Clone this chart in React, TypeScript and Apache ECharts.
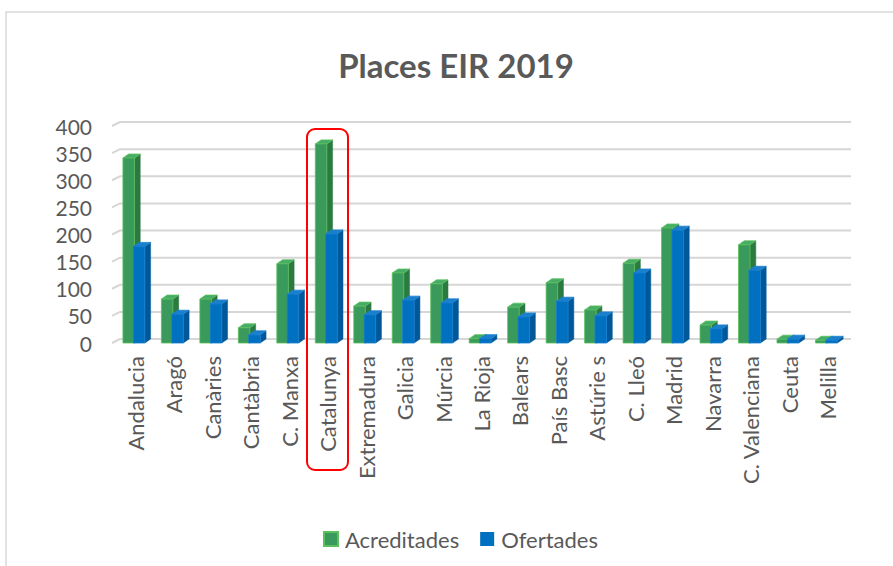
import React, { useEffect, useRef } from "react";
import * as echarts from "echarts";

const categories = [
  "Andalucia", "Aragó", "Canàries", "Cantàbria", "C. Manxa", "Catalunya",
  "Extremadura", "Galicia", "Múrcia", "La Rioja", "Balears", "País Basc",
  "Astúrie s", "C. Lleó", "Madrid", "Navarra", "C. Valenciana", "Ceuta", "Melilla",
];
const acreditades = [341, 81, 81, 28, 146, 367, 68, 129, 109, 8, 66, 111, 61, 147, 212, 33, 181, 7, 5];
const ofertades = [178, 53, 72, 15, 90, 201, 52, 79, 74, 8, 48, 77, 50, 129, 208, 26, 134, 7, 5];
const yTicks = [0, 50, 100, 150, 200, 250, 300, 350, 400];

const FONT = "Lato, 'Open Sans', sans-serif";
const TEXT = "#595959";

const GREEN = { front: "#3a9a5b", side: "#2a7a42", top: "#45ad66", edge: "#5cc05c" };
const BLUE = { front: "#0070c0", side: "#00589a", top: "#1a80cc", edge: "#1a7fd0" };

function make3DRender(col: typeof GREEN, offset: number) {
  return (params: any, api: any) => {
    const idx = api.value(0);
    const val = api.value(1);
    const top = api.coord([idx, val]);
    const base = api.coord([idx, 0]);
    const band = api.size([1, 0])[0];
    const w = band * 0.3;
    const dx = band * 0.15;
    const dy = -4;
    const x0 = top[0] + offset * band;
    const x1 = x0 + w;
    const yT = top[1];
    const yB = base[1];
    return {
      type: "group",
      children: [
        {
          type: "polygon",
          shape: { points: [[x1, yT], [x1 + dx, yT + dy], [x1 + dx, yB + dy], [x1, yB]] },
          style: { fill: col.side, stroke: col.side, lineWidth: 0.5 },
        },
        {
          type: "polygon",
          shape: { points: [[x0, yT], [x0 + dx, yT + dy], [x1 + dx, yT + dy], [x1, yT]] },
          style: { fill: col.top, stroke: col.edge, lineWidth: 0.8 },
        },
        {
          type: "rect",
          shape: { x: x0, y: yT, width: w, height: yB - yT },
          style: { fill: col.front, stroke: col.edge, lineWidth: 0.8 },
        },
      ],
    };
  };
}

export default function App() {
  const ref = useRef<HTMLDivElement>(null);
  useEffect(() => {
    if (!ref.current) return;
    const chart = echarts.init(ref.current, undefined, { renderer: "svg" });
    chart.setOption({
      animation: false,
      backgroundColor: "#ffffff",
      grid: { left: 116, right: 46, top: 126, bottom: 223, containLabel: false },
      xAxis: {
        type: "category",
        data: categories,
        axisLine: { show: false },
        axisTick: { show: false },
        axisLabel: {
          rotate: 90,
          interval: 0,
          margin: 13,
          fontFamily: FONT,
          fontSize: 22,
          color: TEXT,
        },
      },
      yAxis: {
        type: "value",
        min: 0,
        max: 400,
        interval: 50,
        axisLine: { show: false },
        axisTick: { show: false },
        splitLine: { show: false },
        axisLabel: { margin: 24, fontFamily: FONT, fontSize: 21, color: TEXT },
      },
      legend: {
        left: 318,
        top: 523,
        itemWidth: 14,
        itemHeight: 14,
        itemGap: 21,
        icon: "rect",
        textStyle: { fontFamily: FONT, fontSize: 22, color: TEXT, padding: [0, 0, 0, 2] },
        data: ["Acreditades", "Ofertades"],
      },
      series: [
        {
          name: "grid",
          type: "custom",
          silent: true,
          data: yTicks.map((v) => [0, v]),
          renderItem: (params: any, api: any) => {
            const v = api.value(1);
            const p = api.coord([0, v]);
            const cs = params.coordSys;
            const L = cs.x - 4;
            const R = cs.x + cs.width + 4;
            return {
              type: "polyline",
              shape: { points: [[L, p[1]], [L + 8, p[1] - 4], [R, p[1] - 4]] },
              style: { stroke: "#d6d6d6", lineWidth: 2, fill: "none" },
            };
          },
          z: 1,
        },
        {
          name: "Acreditades",
          type: "custom",
          itemStyle: { color: GREEN.front, borderColor: GREEN.edge, borderWidth: 1 },
          data: acreditades.map((v, i) => [i, v]),
          renderItem: make3DRender(GREEN, -0.32),
          z: 2,
        },
        {
          name: "Ofertades",
          type: "custom",
          itemStyle: { color: BLUE.front },
          data: ofertades.map((v, i) => [i, v]),
          renderItem: make3DRender(BLUE, -0.05),
          z: 3,
        },
      ],
      graphic: [
        {
          type: "rect",
          shape: { x: 6, y: 12, width: 900, height: 600 },
          style: { fill: "none", stroke: "#d9d9d9", lineWidth: 1.5 },
          z: 0,
        },
        {
          type: "text",
          x: 456,
          y: 65,
          style: {
            text: "Places EIR 2019",
            fontFamily: FONT,
            fontWeight: "bold",
            fontSize: 33,
            fill: TEXT,
            textAlign: "center",
            textVerticalAlign: "middle",
          },
        },
        {
          type: "rect",
          shape: { x: 307, y: 129, width: 41, height: 341, r: 8 },
          style: { fill: "none", stroke: "#ff0000", lineWidth: 2 },
          z: 10,
        },
      ],
    });
    return () => chart.dispose();
  }, []);
  return (
    <div
      ref={ref}
      style={{ position: "fixed", left: 0, top: 0, width: 893, height: 566 }}
    />
  );
}
